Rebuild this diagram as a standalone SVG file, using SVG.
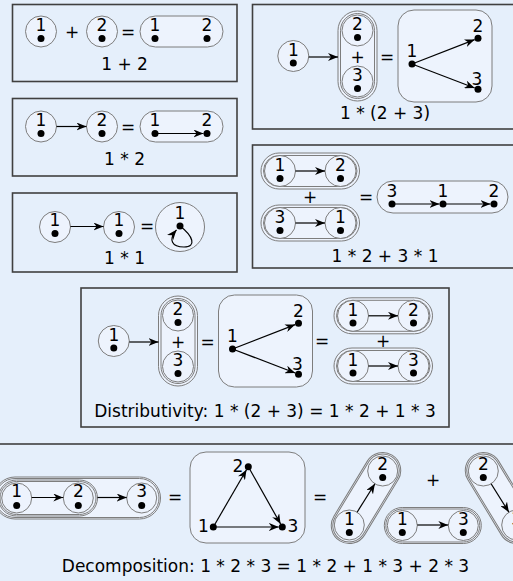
<svg xmlns="http://www.w3.org/2000/svg" width="513" height="581" viewBox="0 0 513 581">
<defs>
<style>
.bg{fill:#e5effb}
.panel{fill:#e5effb;stroke:#404040;stroke-width:1.6}
.sh{fill:#edf3fd;stroke:#7d7d7d;stroke-width:1}
.dl{fill:none;stroke:#7d7d7d;stroke-width:1}
.dot{fill:#000}
.e{fill:none;stroke:#000;stroke-width:1.2;marker-end:url(#ah)}
text{font-family:"DejaVu Sans","Liberation Sans",sans-serif;font-size:17px;text-anchor:middle;fill:#000}
</style>
<marker id="ah" viewBox="0 0 10 8" refX="10" refY="4" markerWidth="10" markerHeight="8" markerUnits="userSpaceOnUse" orient="auto"><path d="M0,0 L10,4 L0,8 L3,4 z" fill="#000"/></marker>
</defs>
<rect class="bg" x="0" y="0" width="513" height="581"/>

<!-- Panel 1: 1 + 2 -->
<g id="p1">
<rect class="panel" x="12.5" y="4.5" width="224.5" height="77"/>
<g id="p1-n1"><circle class="sh" cx="41" cy="31.5" r="15.5"/><text x="41" y="31">1</text><circle class="dot" cx="41" cy="38.5" r="3.5"/></g>
<text x="72" y="38">+</text>
<g id="p1-n2"><circle class="sh" cx="102" cy="31.5" r="15.5"/><text x="102" y="31">2</text><circle class="dot" cx="102" cy="38.5" r="3.5"/></g>
<text x="128" y="38">=</text>
<g id="p1-r"><rect class="sh" x="140" y="16" width="83" height="31" rx="15.5"/>
<text x="155" y="31">1</text><circle class="dot" cx="155" cy="38.5" r="3.5"/>
<text x="207" y="31">2</text><circle class="dot" cx="207" cy="38.5" r="3.5"/></g>
<text x="124.5" y="70">1 + 2</text>
</g>

<!-- Panel 3: 1 * 2 -->
<g id="p3">
<rect class="panel" x="12.5" y="98.5" width="224.5" height="77.5"/>
<g id="p3-n1"><circle class="sh" cx="41" cy="126.5" r="15.5"/><text x="41" y="126">1</text><circle class="dot" cx="41" cy="133.5" r="3.5"/></g>
<g id="p3-n2"><circle class="sh" cx="102" cy="126.5" r="15.5"/><text x="102" y="126">2</text><circle class="dot" cx="102" cy="133.5" r="3.5"/></g>
<text x="128" y="132.5">=</text>
<g id="p3-r"><rect class="sh" x="140" y="111" width="83" height="31" rx="15.5"/>
<text x="155" y="126">1</text><circle class="dot" cx="155" cy="133.5" r="3.5"/>
<text x="207" y="126">2</text><circle class="dot" cx="207" cy="133.5" r="3.5"/></g>
<text x="124.5" y="164.5">1 * 2</text>
</g>

<!-- Panel 4: 1 * 1 -->
<g id="p4">
<rect class="panel" x="12.5" y="193" width="224.5" height="79"/>
<g id="p4-n1"><circle class="sh" cx="55" cy="227" r="15.5"/><text x="55" y="226">1</text><circle class="dot" cx="55" cy="233.5" r="3.5"/></g>
<g id="p4-n2"><circle class="sh" cx="119" cy="227" r="15.5"/><text x="119" y="226">1</text><circle class="dot" cx="119" cy="233.5" r="3.5"/></g>
<text x="147" y="232">=</text>
<g id="p4-r"><circle class="sh" cx="180" cy="227" r="24.5"/><text x="180" y="219">1</text><circle class="dot" cx="180" cy="226" r="3.5"/></g>
<text x="124.5" y="264">1 * 1</text>
</g>

<!-- Panel 2: 1 * (2 + 3) -->
<g id="p2">
<rect class="panel" x="252.5" y="4.5" width="266" height="124.5"/>
<g id="p2-left">
<g id="p2-n1"><circle class="sh" cx="293.3" cy="56" r="15.5"/><text x="293.3" y="56">1</text><circle class="dot" cx="293.3" cy="63" r="3.5"/></g>
<g id="p2-sum"><rect class="sh" x="338" y="11" width="39" height="90" rx="19.5"/><rect class="dl" x="340.5" y="13.5" width="34" height="85" rx="17"/>
<circle class="sh" cx="357.5" cy="30.5" r="15.5"/><text x="357.5" y="30">2</text><circle class="dot" cx="357.5" cy="37.5" r="3.5"/>
<text x="357.5" y="63">+</text>
<circle class="sh" cx="357.5" cy="81.5" r="15.5"/><text x="357.5" y="81">3</text><circle class="dot" cx="357.5" cy="88.5" r="3.5"/></g>
<text x="387" y="63">=</text>
<g id="p2-r"><rect class="sh" x="398" y="10" width="94" height="92" rx="16"/>
<text x="412" y="57">1</text><circle class="dot" cx="412" cy="64" r="3.5"/>
<text x="478" y="31.5">2</text><circle class="dot" cx="478" cy="38.3" r="3.5"/>
<text x="477" y="84.5">3</text><circle class="dot" cx="478" cy="89.3" r="3.5"/></g>
</g>
<text x="385" y="119">1 * (2 + 3)</text>
</g>

<!-- Panel 5: 1 * 2 + 3 * 1 -->
<g id="p5">
<rect class="panel" x="252.5" y="145" width="266" height="123"/>
<g id="p5-a"><rect class="sh" x="261" y="153" width="98.5" height="36" rx="18"/><rect class="dl" x="263.5" y="155.5" width="93.5" height="31" rx="15.5"/>
<circle class="sh" cx="280" cy="171" r="15.5"/><text x="280" y="171">1</text><circle class="dot" cx="280" cy="178.5" r="3.5"/>
<circle class="sh" cx="340.5" cy="171" r="15.5"/><text x="340.5" y="171">2</text><circle class="dot" cx="340.5" cy="178.5" r="3.5"/></g>
<text x="310" y="203">+</text>
<g id="p5-b"><rect class="sh" x="261" y="205" width="98.5" height="36" rx="18"/><rect class="dl" x="263.5" y="207.5" width="93.5" height="31" rx="15.5"/>
<circle class="sh" cx="280" cy="223" r="15.5"/><text x="280" y="223">3</text><circle class="dot" cx="280" cy="230.5" r="3.5"/>
<circle class="sh" cx="340.5" cy="223" r="15.5"/><text x="340.5" y="223">1</text><circle class="dot" cx="340.5" cy="230.5" r="3.5"/></g>
<text x="366" y="203">=</text>
<g id="p5-r"><rect class="sh" x="377" y="181" width="131" height="32" rx="16"/>
<text x="392" y="197">3</text><circle class="dot" cx="392" cy="204" r="3.5"/>
<text x="443" y="197">1</text><circle class="dot" cx="443" cy="204" r="3.5"/>
<text x="494" y="197">2</text><circle class="dot" cx="494" cy="204" r="3.5"/></g>
<text x="385" y="262">1 * 2 + 3 * 1</text>
</g>

<!-- Panel 6: Distributivity -->
<g id="p6">
<rect class="panel" x="81" y="288" width="368" height="139"/>
<g id="p6-left" transform="translate(-179.5,285)">
<g id="p6-n1"><circle class="sh" cx="293.3" cy="56" r="15.5"/><text x="293.3" y="56">1</text><circle class="dot" cx="293.3" cy="63" r="3.5"/></g>
<g id="p6-sum"><rect class="sh" x="338" y="11" width="39" height="90" rx="19.5"/><rect class="dl" x="340.5" y="13.5" width="34" height="85" rx="17"/>
<circle class="sh" cx="357.5" cy="30.5" r="15.5"/><text x="357.5" y="30">2</text><circle class="dot" cx="357.5" cy="37.5" r="3.5"/>
<text x="357.5" y="63">+</text>
<circle class="sh" cx="357.5" cy="81.5" r="15.5"/><text x="357.5" y="81">3</text><circle class="dot" cx="357.5" cy="88.5" r="3.5"/></g>
<text x="387" y="63">=</text>
<g id="p6-mid"><rect class="sh" x="398" y="10" width="94" height="92" rx="16"/>
<text x="412" y="57">1</text><circle class="dot" cx="412" cy="64" r="3.5"/>
<text x="478" y="31.5">2</text><circle class="dot" cx="478" cy="38.3" r="3.5"/>
<text x="477" y="84.5">3</text><circle class="dot" cx="478" cy="89.3" r="3.5"/></g>
</g>
<text x="322" y="347">=</text>
<g id="p6-a"><rect class="sh" x="334" y="297.8" width="98.5" height="36" rx="18"/><rect class="dl" x="336.5" y="300.3" width="93.5" height="31" rx="15.5"/>
<circle class="sh" cx="353" cy="315.8" r="15.5"/><text x="353" y="315.5">1</text><circle class="dot" cx="353" cy="323" r="3.5"/>
<circle class="sh" cx="413.5" cy="315.8" r="15.5"/><text x="413.5" y="315.5">2</text><circle class="dot" cx="413.5" cy="323" r="3.5"/></g>
<text x="383" y="347">+</text>
<g id="p6-b"><rect class="sh" x="334" y="348" width="98.5" height="36" rx="18"/><rect class="dl" x="336.5" y="350.5" width="93.5" height="31" rx="15.5"/>
<circle class="sh" cx="353" cy="366" r="15.5"/><text x="353" y="366">1</text><circle class="dot" cx="353" cy="373" r="3.5"/>
<circle class="sh" cx="413.5" cy="366" r="15.5"/><text x="413.5" y="366">3</text><circle class="dot" cx="413.5" cy="373" r="3.5"/></g>
<text x="265" y="417">Distributivity: 1 * (2 + 3) = 1 * 2 + 1 * 3</text>
</g>

<!-- Panel 7: Decomposition -->
<g id="p7">
<rect class="panel" x="-5" y="444" width="525" height="160"/>
<g id="p7-chain">
<rect class="sh" x="-6" y="477" width="166.5" height="42" rx="21"/><rect class="dl" x="-4.5" y="478.5" width="163.5" height="39" rx="19.5"/>
<rect class="sh" x="-1.5" y="480" width="99" height="36" rx="18"/><rect class="dl" x="0" y="481.5" width="96" height="33" rx="16.5"/>
<circle class="sh" cx="16.7" cy="498" r="15"/><text x="16.7" y="497">1</text><circle class="dot" cx="16.7" cy="505.5" r="3.5"/>
<circle class="sh" cx="78.3" cy="498" r="15"/><text x="78.3" y="497">2</text><circle class="dot" cx="78.3" cy="505.5" r="3.5"/>
<circle class="sh" cx="141.7" cy="498" r="15"/><text x="141.7" y="497">3</text><circle class="dot" cx="141.7" cy="505.5" r="3.5"/>
</g>
<text x="175" y="503">=</text>
<g id="p7-tri"><rect class="sh" x="190" y="452" width="115" height="91" rx="16"/>
<text x="203.5" y="531.5">1</text><circle class="dot" cx="213.3" cy="527" r="3.5"/>
<text x="237.8" y="471.5">2</text><circle class="dot" cx="248.3" cy="466.7" r="3.5"/>
<text x="292.8" y="531.5">3</text><circle class="dot" cx="282.3" cy="527" r="3.5"/></g>
<text x="320" y="503">=</text>
<g id="p7-a"><g transform="translate(366,498) rotate(-58.73)"><rect class="sh" x="-50.2" y="-18" width="100.4" height="36" rx="18"/><rect class="dl" x="-48.7" y="-16.5" width="97.4" height="33" rx="16.5"/></g>
<circle class="sh" cx="349.3" cy="525" r="15"/><text x="349.3" y="524.5">1</text><circle class="dot" cx="349.3" cy="532.5" r="3.5"/>
<circle class="sh" cx="382.7" cy="471" r="15"/><text x="382.7" y="470">2</text><circle class="dot" cx="382.7" cy="477.5" r="3.5"/></g>
<text x="433" y="486">+</text>
<g id="p7-b"><rect class="sh" x="384.3" y="507.5" width="97" height="36" rx="18"/><rect class="dl" x="385.8" y="509" width="94" height="33" rx="16.5"/>
<circle class="sh" cx="402.3" cy="525.5" r="15"/><text x="402.3" y="524.5">1</text><circle class="dot" cx="402.3" cy="532.5" r="3.5"/>
<circle class="sh" cx="463.3" cy="525.5" r="15"/><text x="463.3" y="524.5">3</text><circle class="dot" cx="463.3" cy="532.5" r="3.5"/></g>
<g id="p7-c"><g transform="translate(500,498) rotate(58.73)"><rect class="sh" x="-50.2" y="-18" width="100.4" height="36" rx="18"/><rect class="dl" x="-48.7" y="-16.5" width="97.4" height="33" rx="16.5"/></g>
<circle class="sh" cx="483.3" cy="471" r="15"/><text x="483.3" y="470">2</text><circle class="dot" cx="483.3" cy="477.5" r="3.5"/>
<circle class="sh" cx="516.7" cy="525" r="15"/><text x="516.7" y="524.5">3</text><circle class="dot" cx="516.7" cy="532.5" r="3.5"/></g>
<text x="265.5" y="572">Decomposition: 1 * 2 * 3 = 1 * 2 + 1 * 3 + 2 * 3</text>
</g>

<!-- Connectors -->
<g id="connectors">
<line class="e" x1="56.5" y1="126.5" x2="86.5" y2="126.5"/>
<line class="e" x1="155" y1="133.5" x2="203.5" y2="133.5"/>
<line class="e" x1="70.5" y1="226.5" x2="103.5" y2="226.5"/>
<path class="e" d="M180,226 C193,236 197,247 184,247 C172,247 168,240 176.5,229.8"/>
<line class="e" x1="308.8" y1="57" x2="338" y2="57"/>
<line class="e" x1="412" y1="64" x2="474.7" y2="39.6"/>
<line class="e" x1="412" y1="64" x2="474.7" y2="88"/>
<line class="e" x1="295.5" y1="171" x2="325" y2="171"/>
<line class="e" x1="295.5" y1="223" x2="325" y2="223"/>
<line class="e" x1="392" y1="204" x2="439.5" y2="204"/>
<line class="e" x1="443" y1="204" x2="490.5" y2="204"/>
<g transform="translate(-179.5,285)">
<line class="e" x1="308.8" y1="57" x2="338" y2="57"/>
<line class="e" x1="412" y1="64" x2="474.7" y2="39.6"/>
<line class="e" x1="412" y1="64" x2="474.7" y2="88"/>
</g>
<line class="e" x1="368.5" y1="315.8" x2="398" y2="315.8"/>
<line class="e" x1="368.5" y1="366" x2="398" y2="366"/>
<line class="e" x1="31.7" y1="497.5" x2="63.3" y2="497.5"/>
<line class="e" x1="97.5" y1="497.5" x2="126.7" y2="497.5"/>
<line class="e" x1="213.3" y1="527" x2="246.5" y2="469.7"/>
<line class="e" x1="248.3" y1="466.7" x2="280.6" y2="524"/>
<line class="e" x1="213.3" y1="527" x2="278.8" y2="527"/>
<line class="e" x1="357.1" y1="512.2" x2="374.9" y2="483.8"/>
<line class="e" x1="417.3" y1="525" x2="448.3" y2="525"/>
<line class="e" x1="491.1" y1="483.8" x2="508.9" y2="512.2"/>
</g>
</svg>
